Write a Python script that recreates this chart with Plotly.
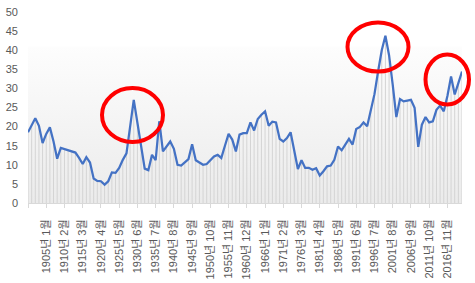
import plotly.graph_objects as go

# ---- data ----
values = [
    18.5, 20.3, 22.2, 20.2, 15.7, 18.1, 19.8, 16.1, 11.6, 14.4,
    14.1, 13.9, 13.5, 13.2, 11.8, 10.2, 12.0, 10.6, 6.4, 5.8,
    5.7, 4.8, 5.7, 8.0, 7.9, 9.2, 11.3, 13.0, 20.0, 27.0,
    21.0, 15.0, 9.0, 8.6, 12.6, 11.2, 21.4, 13.5, 14.8, 16.1,
    14.2, 10.0, 9.8, 10.6, 11.5, 15.4, 11.2, 10.6, 10.0, 10.2,
    11.3, 12.2, 12.6, 11.8, 15.0, 18.1, 16.6, 13.5, 17.9, 18.3,
    18.3, 21.1, 19.0, 22.0, 23.1, 24.0, 20.2, 21.3, 21.1, 16.8,
    16.1, 17.0, 18.5, 13.7, 8.9, 11.2, 9.2, 9.2, 8.7, 9.1,
    7.2, 8.3, 9.6, 9.8, 11.3, 14.8, 13.8, 15.3, 16.8, 15.3,
    19.4, 19.9, 21.1, 20.1, 24.4, 28.5, 34.5, 40.0, 43.8, 38.7,
    31.0, 22.5, 27.2, 26.6, 26.8, 27.0, 24.9, 14.7, 20.5, 22.5,
    21.1, 21.4, 24.4, 25.5, 24.0, 28.0, 33.1, 28.4, 31.4, 34.4,
]
positions = list(range(len(values)))

tick_positions = [0, 5, 10, 15, 20, 25, 30, 35, 40, 45, 50, 55, 60, 65, 70,
                  75, 80, 85, 90, 95, 100, 105, 110, 115]
tick_labels = ["", "1905년 1월", "1910년 2월", "1915년 3월", "1920년 4월", "1925년 5월",
               "1930년 6월", "1935년 7월", "1940년 8월", "1945년 9월", "1950년 10월",
               "1955년 11월", "1960년 12월", "1966년 1월", "1971년 2월", "1976년 3월",
               "1981년 4월", "1986년 5월", "1991년 6월", "1996년 7월", "2001년 8월",
               "2006년 9월", "2011년 10월", "2016년 11월"]

# ---- layout geometry ----
W, H = 475, 283
ML, MR, MT, MB = 28, 13, 12, 80
PW, PH = W - ML - MR, H - MT - MB

def px_x(p):
    return (p - ML) / PW

def px_y(p):
    return (H - MB - p) / PH

FONT = "Liberation Sans, Arial, Noto Sans CJK KR, sans-serif"

fig = go.Figure()

# subtle gradient background
fig.add_trace(go.Scatter(
    x=[positions[0], positions[-1]], y=[41, 41], mode="lines",
    line=dict(width=0), fill="tozeroy",
    fillgradient=dict(type="vertical", start=0, stop=41,
                      colorscale=[[0, "#ebebeb"], [1, "#fdfdfd"]]),
    hoverinfo="skip", showlegend=False))

# drop lines
fig.add_trace(go.Scatter(
    x=positions, y=values, mode="markers",
    marker=dict(size=1, opacity=0),
    error_y=dict(type="data", symmetric=False, array=[0] * len(values),
                 arrayminus=values, color="#d4d4d4", thickness=1, width=0),
    hoverinfo="skip", showlegend=False))

# main line
fig.add_trace(go.Scatter(
    x=positions, y=values, mode="lines",
    line=dict(color="#4472C4", width=2.25),
    showlegend=False))

ellipses = [
    (102, 88, 163, 142),
    (347.5, 22.5, 408.5, 71.5),
    (425.5, 54.5, 469, 104.5),
]
for x0, y0, x1, y1 in ellipses:
    fig.add_shape(type="circle", xref="paper", yref="paper",
                  x0=px_x(x0), x1=px_x(x1), y0=px_y(y1), y1=px_y(y0),
                  line=dict(color="#ff0000", width=4), layer="above")

fig.update_layout(
    width=W, height=H,
    margin=dict(l=ML, r=MR, t=MT, b=MB, pad=0, autoexpand=False),
    paper_bgcolor="white", plot_bgcolor="white",
    font=dict(family=FONT, size=11, color="#595959"),
    xaxis=dict(range=[positions[0], positions[-1]], tickmode="array",
               tickvals=tick_positions, ticktext=tick_labels, tickangle=-90,
               ticks="outside", ticklen=4, tickcolor="#d9d9d9", tickwidth=1,
               showline=True, linecolor="#d9d9d9", linewidth=1,
               showgrid=False, zeroline=False, ticklabelstandoff=7,
               automargin=False,
               tickfont=dict(size=11, color="#595959")),
    yaxis=dict(range=[0, 50], dtick=5, showgrid=False, zeroline=False,
               showline=False, ticks="", ticklabelstandoff=9,
               automargin=False,
               tickfont=dict(size=11, color="#595959")),
)

fig.write_html("out.html")
